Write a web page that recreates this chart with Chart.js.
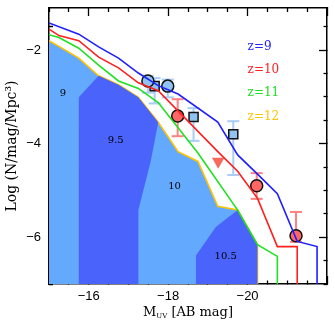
<!DOCTYPE html>
<html>
<head>
<meta charset="utf-8">
<script src="https://cdn.jsdelivr.net/npm/chart.js@4"></script>
<style>
  body { margin: 0; background: #fff; }
  #wrap { width: 335px; height: 323px; position: relative; }
</style>
</head>
<body>
<div id="wrap"><canvas id="lf"></canvas></div>
<script>
// --- model luminosity functions, log N vs M_UV, one curve per redshift ---
const magZ9  = [-15.0, -15.75, -16.25, -16.75, -17.25, -17.75, -18.25, -19.25, -19.75, -20.25, -20.75, -21.25, -21.75, -21.75];
const logZ9  = [-1.42, -1.66, -1.93, -2.17, -2.49, -2.76, -2.94, -3.54, -4.24, -4.65, -5.07, -6.09, -6.20, -8];
const magZ10 = [-15.0, -15.25, -15.75, -16.25, -16.75, -17.25, -17.75, -19.25, -19.75, -20.25, -20.75, -21.25, -21.25];
const logZ10 = [-1.55, -1.69, -1.80, -2.15, -2.38, -2.70, -2.87, -4.17, -4.59, -5.17, -6.20, -6.20, -8];
const magZ11 = [-15.0, -15.25, -15.75, -16.25, -16.75, -17.25, -17.75, -18.75, -19.75, -20.25, -20.75, -20.75];
const logZ11 = [-1.67, -1.73, -1.96, -2.32, -2.66, -2.82, -3.12, -4.20, -5.42, -6.16, -6.41, -8];
const magZ12 = [-15.0, -15.25, -15.75, -16.25, -16.75, -17.25, -17.75, -18.25, -18.75, -19.25, -19.75, -20.25, -20.25];
const logZ12 = [-1.80, -1.92, -2.17, -2.55, -2.74, -3.01, -3.54, -4.17, -4.38, -5.34, -5.42, -6.16, -8];

// halo mass zones (log Mh = 9.5 and 10.5 patches)
const zone95X  = [-15.75, -15.75, -16.25, -16.75, -17.25, -17.75, -17.56, -17.25, -17.25];
const zone95Y  = [-8, -3.01, -2.55, -2.74, -3.01, -3.54, -4.38, -5.42, -8];
const zone105X = [-18.7, -18.7, -19.2, -19.75, -20.25, -20.25];
const zone105Y = [-8, -6.39, -5.78, -5.42, -6.16, -8];

// observed points
const blueCircX = [-17.49, -17.99];
const blueCircY = [-2.66, -2.77];
const blueSqX   = [-17.66, -18.64, -19.64];
const blueSqY   = [-2.77, -3.43, -3.80];
const blueErrX  = [-17.49, -17.66, -17.99, -18.64, -19.64];
const blueErrHi = [-2.55, -2.60, -2.63, -3.24, -3.52];
const blueErrLo = [-2.91, -3.14, -3.01, -3.94, -4.67];
const redCircX  = [-18.24, -20.23, -21.22];
const redCircY  = [-3.41, -4.90, -5.97];
const redErrHi  = [-3.05, -4.63, -5.46];
const redErrLo  = [-3.84, -5.18, -6.10];
const redLimX   = [-19.26];
const redLimY   = [-4.38];

// text
const zoneLabels = ['9', '9.5', '10', '10.5'];
const zoneLabelX = [-15.35, -16.68, -18.16, -19.45];
const zoneLabelY = [-2.93, -3.92, -4.92, -6.41];
const zLabels = ['z=9', 'z=10', 'z=11', 'z=12'];
const zColors = ['#2323ff', '#ff2020', '#22e022', '#ffc400'];
const zLabelX = -20.0;
const zLabelY = [-1.93, -2.42, -2.92, -3.42];
const xTickLabels = [-16, -18, -20];
const yTickLabels = [-2, -4, -6];

const LIGHT = '#63a9fd';
const DARK = '#4a64fb';

const pts = (xs, ys) => xs.map((x, i) => ({ x: x, y: ys[i] }));
const bars = (xs, hi, lo) => xs.flatMap((x, i) => [{ x: x, y: hi[i] }, { x: x, y: lo[i] }, { x: x, y: null }]);

const isMajor = v => Math.abs(v / 2 - Math.round(v / 2)) < 1e-6;
const minus = v => (v < 0 ? '\u2212' : '') + Math.abs(v);
const labelIf = list => v => list.some(t => Math.abs(t - v) < 1e-6) ? minus(v) : '';

// inward ticks: long on majors, dashed short on minors
function tickGrid(fromBorder) {
    return {
        drawOnChartArea: false,
        drawTicks: true,
        tickLength: -8,
        tickWidth: 1.3,
        tickColor: '#000',
        tickBorderDash: c => (!c.tick || isMajor(c.tick.value)) ? [] : (fromBorder ? [4, 30] : [0, 4, 4, 30])
    };
}
const frame = { display: true, color: '#000', width: 1.5 };

// fix the box sizes so the plot area lands where the original has it
function sized(w, h) {
    return s => {
        if (w !== null) s.width = w;
        if (h !== null) s.height = h;
        s.paddingTop = s.paddingBottom = s.paddingLeft = s.paddingRight = 0;
    };
}

function lineSet(xs, ys, color, extra) {
    return Object.assign({
        data: pts(xs, ys), borderColor: color, borderWidth: 1.6,
        pointRadius: 0, fill: false, tension: 0
    }, extra || {});
}
function zoneSet(xs, ys) {
    return { data: pts(xs, ys), borderWidth: 0, pointRadius: 0, backgroundColor: DARK, fill: 'shape' };
}
function markSet(xs, ys, style, fillColor, edge, radius, extra) {
    return Object.assign({
        data: pts(xs, ys), showLine: false, pointStyle: style, pointRadius: radius,
        pointBackgroundColor: fillColor, pointBorderColor: edge, pointBorderWidth: edge ? 1.5 : 0
    }, extra || {});
}
function barSet(xs, hi, lo, color) {
    return {
        data: bars(xs, hi, lo), borderColor: color, borderWidth: 2, spanGaps: false,
        pointStyle: 'line', pointRadius: 6, pointBorderColor: color, pointBorderWidth: 2, fill: false
    };
}

const notes = {
    id: 'notes',
    afterDatasetsDraw(chart) {
        const { ctx, scales: { x, y }, chartArea } = chart;
        ctx.save();
        ctx.fillStyle = '#000';
        ctx.textAlign = 'center';
        ctx.textBaseline = 'middle';
        ctx.font = '10px "DejaVu Serif"';
        zoneLabels.forEach((t, i) => ctx.fillText(t, x.getPixelForValue(zoneLabelX[i]), y.getPixelForValue(zoneLabelY[i])));

        ctx.textAlign = 'left';
        ctx.font = '12px "DejaVu Serif"';
        zLabels.forEach((t, i) => {
            ctx.fillStyle = zColors[i];
            ctx.fillText(t, x.getPixelForValue(zLabelX), y.getPixelForValue(zLabelY[i]));
        });

        // x axis title with subscript
        ctx.fillStyle = '#000';
        ctx.textBaseline = 'alphabetic';
        const big = '13px "DejaVu Serif"', small = '7px "DejaVu Serif"';
        ctx.font = big;
        const wM = ctx.measureText('M').width;
        const wRest = ctx.measureText(' [AB mag]').width;
        ctx.font = small;
        const wSub = ctx.measureText('UV').width;
        let px = (chartArea.left + chartArea.right) / 2 - (wM + wSub + wRest) / 2;
        const base = chartArea.bottom + 32;
        ctx.font = big; ctx.fillText('M', px, base); px += wM;
        ctx.font = small; ctx.fillText('UV', px, base + 2); px += wSub;
        ctx.font = big; ctx.fillText(' [AB mag]', px, base);
        ctx.restore();
    }
};

new Chart(document.getElementById('lf'), {
    type: 'line',
    data: {
        datasets: [
            lineSet(magZ9, logZ9, '#1f1fff'),
            lineSet(magZ10, logZ10, '#ff1f1f'),
            lineSet(magZ11, logZ11, '#22e022'),
            zoneSet(zone95X, zone95Y),
            zoneSet(zone105X, zone105Y),
            lineSet(magZ12, logZ12, '#ffc400', { fill: 'start', backgroundColor: LIGHT }),
            markSet(blueCircX, blueCircY, 'circle', '#90c3f2', '#111', 6),
            markSet(blueSqX, blueSqY, 'rect', '#90c3f2', '#111', 6.4),
            markSet(redCircX, redCircY, 'circle', '#ff6666', '#111', 6),
            markSet(redLimX, redLimY, 'triangle', '#f56a5c', null, 7.2, { pointRotation: 180 }),
            barSet(redCircX, redErrHi, redErrLo, '#ff8282'),
            barSet(blueErrX, blueErrHi, blueErrLo, '#a9cdf6')
        ]
    },
    options: {
        responsive: true,
        maintainAspectRatio: false,
        animation: false,
        events: [],
        layout: { padding: { left: 0, right: 6, top: 2, bottom: 0 } },
        plugins: { legend: { display: false }, tooltip: { enabled: false } },
        scales: {
            x: {
                type: 'linear', position: 'bottom', min: -22, max: -15, reverse: true, z: 1,
                grid: tickGrid(true), border: frame,
                ticks: {
                    stepSize: 0.5, autoSkip: false, maxRotation: 0, padding: 13, color: '#000',
                    font: { family: 'Liberation Sans', size: 13 },
                    callback: labelIf(xTickLabels)
                },
                afterFit: sized(null, 39)
            },
            xTop: {
                type: 'linear', position: 'top', min: -22, max: -15, reverse: true, z: 1,
                grid: tickGrid(false), border: frame,
                ticks: { stepSize: 0.5, autoSkip: false, display: false },
                afterFit: sized(null, 0)
            },
            y: {
                type: 'linear', position: 'left', min: -7, max: -1.1, z: 1,
                grid: tickGrid(false), border: frame,
                ticks: {
                    stepSize: 0.5, includeBounds: false, autoSkip: false, padding: 16, color: '#000',
                    font: { family: 'Liberation Sans', size: 13 },
                    callback: labelIf(yTickLabels)
                },
                title: {
                    display: true, text: 'Log (N/mag/Mpc\u00b3)', color: '#000',
                    font: { family: 'DejaVu Serif', size: 14 }, padding: { top: 4, bottom: 0 }
                },
                afterFit: sized(49, null)
            },
            yRight: {
                type: 'linear', position: 'right', min: -7, max: -1.1, z: 1,
                grid: tickGrid(true), border: frame,
                ticks: { stepSize: 0.5, includeBounds: false, autoSkip: false, display: false },
                afterFit: sized(0, null)
            }
        }
    },
    plugins: [notes]
});
</script>
</body>
</html>
